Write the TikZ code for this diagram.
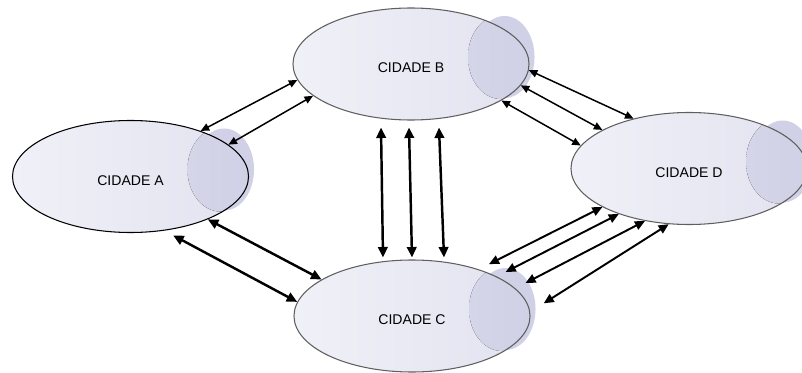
\documentclass[tikz,border=0pt]{standalone}
\usepackage{fontspec}
\setmainfont{Liberation Sans}
\usepackage{tikz}
\usetikzlibrary{shapes.geometric, arrows.meta, backgrounds}
\usepackage{xcolor}

\definecolor{citylight}{RGB}{240,240,248}
\definecolor{citymid}{RGB}{227,227,240}
\definecolor{cloud}{RGB}{208,208,230}
\definecolor{rim}{RGB}{95,95,95}

\begin{document}
\begin{tikzpicture}[
  city/.style={ellipse, draw=rim, line width=0.6pt, minimum width=4.72cm, minimum height=2.24cm,
    left color=citylight, right color=citymid, font=\fontsize{8}{10}\selectfont, text height=0.36cm,
    path picture={\fill[left color=citymid, middle color=cloud, right color=cloud]
      ([xshift=-0.56cm,yshift=0.14cm]path picture bounding box.east) ellipse (0.66cm and 0.84cm);}},
  blob/.style={fill=cloud},
  link/.style={{Triangle[length=1.7mm,width=1.5mm]}-{Triangle[length=1.7mm,width=1.5mm]}, line width=0.85pt},
  mid link/.style={{Triangle[length=2mm,width=1.8mm]}-{Triangle[length=2mm,width=1.8mm]}, line width=1.1pt},
  heavy link/.style={{Triangle[length=2.1mm,width=1.9mm]}-{Triangle[length=2.1mm,width=1.9mm]}, line width=1.4pt}
]
\useasboundingbox (0,0) rectangle (16.04,7.44);

% cidades
\node (a) [city, draw=black] at (2.61,3.91) {CIDADE A};
\node (b) [city] at (8.22,6.16) {CIDADE B};
\node (c) [city] at (8.24,1.12) {CIDADE C};
\node (d) [city] at (13.78,4.07) {CIDADE D};

% sombras
\begin{scope}[on background layer]
  \foreach \n in {a,b,c,d}
    \fill [blob] ([xshift=-0.5cm,yshift=0.14cm]\n.east) ellipse (0.6cm and 0.82cm);
\end{scope}

% A - B
\draw [link] (a.33) -- (b.188);
\draw [link] (a.18) -- (b.198);

% B - D
\draw [link] (b.-3) -- (d.138);
\draw [link] (b.-11) -- (d.156);
\draw [link] (b.-22) -- (d.168);

% B - C
\draw [heavy link] ([xshift=-0.6cm,yshift=-0.14cm]b.south) -- ([xshift=-0.58cm,yshift=0.04cm]c.north);
\draw [heavy link] ([xshift=-0.04cm,yshift=-0.14cm]b.south) -- ([yshift=0.04cm]c.north);
\draw [heavy link] ([xshift=0.56cm,yshift=-0.14cm]b.south) -- ([xshift=0.64cm,yshift=0.04cm]c.north);

% A - C
\draw [heavy link] (a.-29) -- (c.158);
\draw [heavy link, shorten <=0.2cm] (a.-58) -- (c.173);

% C - D
\draw [mid link, shorten <=0.23cm] (c.35) -- (d.204);
\draw [mid link, shorten <=0.2cm] (c.25) -- (d.213);
\draw [mid link, shorten <=0.23cm] (c.15) -- (d.230);
\draw [mid link, shorten <=0.32cm] (c.2) -- (d.250);

\end{tikzpicture}
\end{document}
